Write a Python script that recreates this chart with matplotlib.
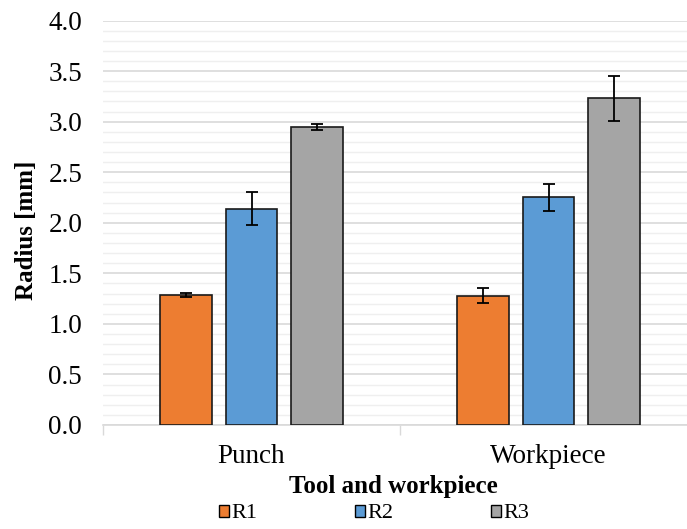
import matplotlib
matplotlib.use("Agg")
import matplotlib.pyplot as plt
import numpy as np
from matplotlib.patches import Patch

categories = ["Punch", "Workpiece"]
series = ["R1", "R2", "R3"]
r1_mean = [1.29, 1.28]
r2_mean = [2.14, 2.25]
r3_mean = [2.95, 3.23]
r1_err = [0.02, 0.07]
r2_err = [0.16, 0.135]
r3_err = [0.03, 0.22]
colors = ["#ED7D31", "#5B9BD5", "#A5A5A5"]
y_ticks = [0.0, 0.5, 1.0, 1.5, 2.0, 2.5, 3.0, 3.5, 4.0]

plt.rcParams["font.family"] = ["Liberation Serif", "DejaVu Serif"]

W, H = 687, 529
fig = plt.figure(figsize=(W / 100, H / 100), dpi=100)
ax = fig.add_axes([103 / W, 1 - 425 / H, 594 / W, (425 - 20.5) / H])

x = np.arange(len(categories))
width = 0.175
offset = 0.222
means = [r1_mean, r2_mean, r3_mean]
errs = [r1_err, r2_err, r3_err]
for i, (m, e, c) in enumerate(zip(means, errs, colors)):
    ax.bar(x + (i - 1) * offset, m, width, color=c, edgecolor="#1a1a1a",
           linewidth=1.2, zorder=3)
    ax.errorbar(x + (i - 1) * offset, m, yerr=e, fmt="none", ecolor="black",
                elinewidth=1.3, capsize=4, capthick=1.3, zorder=4)

ax.set_xlim(-0.5, 1.5)
ax.set_ylim(0, 4.0)
ax.set_yticks(y_ticks)
ax.set_yticklabels([f"{v:.1f}" for v in y_ticks], fontsize=19.5)
ax.set_yticks(np.arange(0, 4.01, 0.1), minor=True)
ax.grid(axis="y", which="major", color="#d9d9d9", linewidth=1.2, zorder=0)
ax.grid(axis="y", which="minor", color="#efefef", linewidth=1.0, zorder=0)
ax.tick_params(axis="y", which="both", length=0, pad=15)

ax.set_xticks(x)
ax.set_xticklabels(categories, fontsize=19.5)
ax.set_xticks([-0.5, 0.5, 1.5], minor=True)
ax.tick_params(axis="x", which="major", length=0, pad=14)
ax.tick_params(axis="x", which="minor", length=7, color="#d9d9d9", width=1.0)

for s in ["left", "right", "top"]:
    ax.spines[s].set_visible(False)
ax.spines["bottom"].set_color("#d9d9d9")
ax.spines["bottom"].set_linewidth(1.2)

fig.text(27 / W, 1 - 230 / H, "Radius [mm]", rotation=90, ha="center",
         va="center", fontsize=18, fontweight="bold")
fig.text(393 / W, 1 - 486 / H, "Tool and workpiece", ha="center",
         va="center", fontsize=18, fontweight="bold")

handles = [Patch(facecolor=c, edgecolor="black", linewidth=1.0) for c in colors]
fig.legend(handles, series, loc="center", bbox_to_anchor=(374 / W, 1 - 514 / H),
           ncol=3, frameon=False, fontsize=16, handlelength=0.45,
           handleheight=0.45, handletextpad=0.1, columnspacing=4.4,
           borderpad=0.0)

fig.savefig("out.png", dpi=100)
